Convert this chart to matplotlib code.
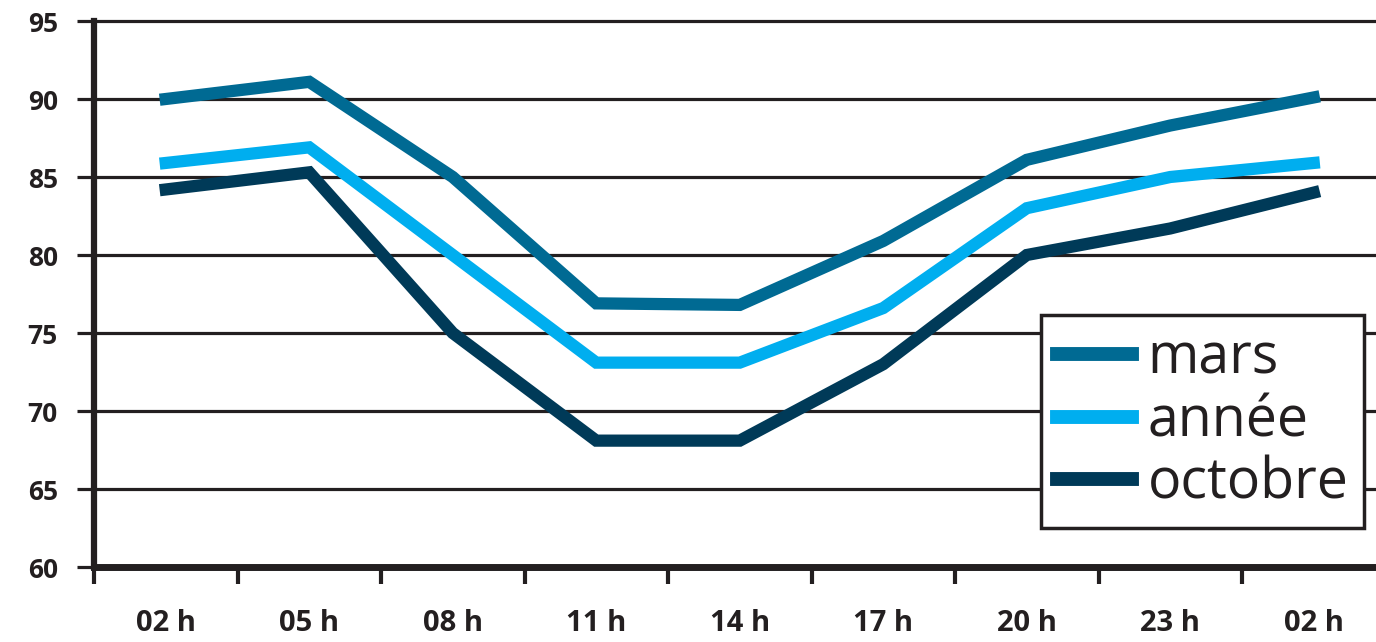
import matplotlib
matplotlib.use("Agg")
import matplotlib.pyplot as plt
import numpy as np

hours = ["02 h", "05 h", "08 h", "11 h", "14 h", "17 h", "20 h", "23 h", "02 h"]
mars = [90.0, 91.1, 85.0, 76.9, 76.8, 80.9, 86.1, 88.3, 90.1]
annee = [85.9, 86.9, 80.0, 73.1, 73.1, 76.6, 83.0, 85.0, 85.9]
octobre = [84.2, 85.3, 75.0, 68.1, 68.1, 73.0, 80.0, 81.7, 84.0]
yticks = [60, 65, 70, 75, 80, 85, 90, 95]

dark = "#231F20"
plt.rcParams['font.family'] = ['Open Sans', 'DejaVu Sans']

fig = plt.figure(figsize=(13.76, 6.42), dpi=100)
ax = fig.add_axes([94/1376, 1 - 567/642, 1 - 94/1376, (567 - 21)/642])

x = np.arange(len(hours))
ax.plot(x, mars, color="#006A93", lw=8.8, label="mars", solid_joinstyle='miter', zorder=3)
ax.plot(x, annee, color="#00AEEF", lw=8.8, label="année", solid_joinstyle='miter', zorder=3)
ax.plot(x, octobre, color="#003A58", lw=8.8, label="octobre", solid_joinstyle='miter', zorder=3)

ax.set_xlim(-0.5, -0.5 + 1282/143.5)
ax.set_ylim(60, 95)

for s in ["top", "right"]:
    ax.spines[s].set_visible(False)
ax.spines["left"].set_linewidth(4.5)
ax.spines["bottom"].set_linewidth(5)
ax.spines["left"].set_color(dark)
ax.spines["bottom"].set_color(dark)

ax.set_yticks(yticks)
ax.set_yticklabels([str(v) for v in yticks], fontsize=19, fontweight='bold', color=dark)
ax.tick_params(axis='y', length=12, width=2.3, color=dark, pad=14)
for v in yticks[1:]:
    ax.axhline(v, color=dark, lw=2.3, zorder=1, clip_on=False)

ax.set_xticks(x)
ax.set_xticklabels(hours, fontsize=21, fontweight='bold', color=dark)
ax.tick_params(axis='x', which='major', length=0, pad=30)
ax.set_xticks(np.arange(len(hours)) - 0.5, minor=True)
ax.tick_params(axis='x', which='minor', length=12, width=3, color=dark, direction='out')

leg = ax.legend(loc='lower left', bbox_to_anchor=(0.739, 0.071), fontsize=40,
                frameon=True, fancybox=False, edgecolor=dark, framealpha=1,
                handlelength=1.35, handletextpad=0.28, borderpad=0.28,
                borderaxespad=0, labelspacing=0.1)
leg.get_frame().set_linewidth(2.5)
leg.set_clip_on(False)
for h in leg.get_lines():
    h.set_linewidth(10)
for t in leg.get_texts():
    t.set_color(dark)

fig.savefig("out.png", dpi=100)
